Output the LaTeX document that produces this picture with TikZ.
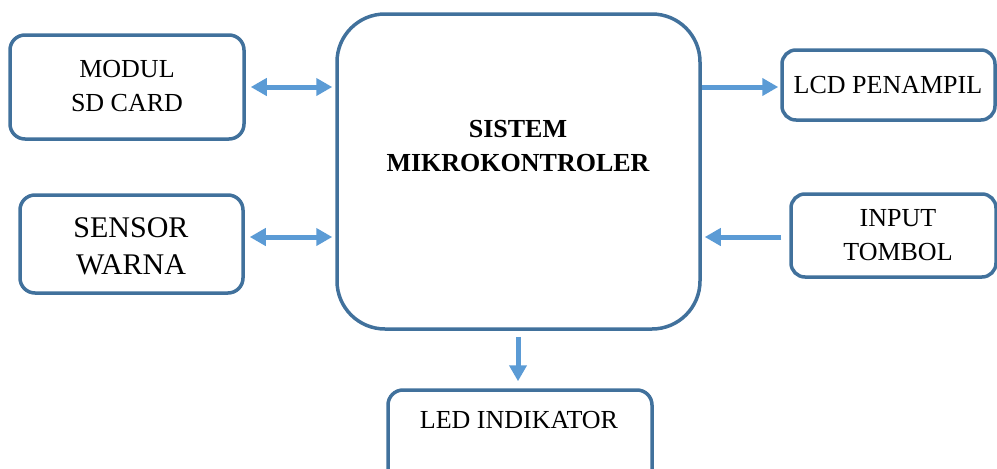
\documentclass[tikz,border=0pt]{standalone}
\usepackage{fontspec}
\setmainfont{Liberation Serif}
\usetikzlibrary{arrows.meta}
\definecolor{boxblue}{HTML}{41719C}
\definecolor{arrblue}{HTML}{5B9BD5}
\begin{document}
\begin{tikzpicture}[x=1pt,y=-1pt,
  box/.style={draw=boxblue, line width=3.5pt, fill=white, inner sep=0pt, align=center},
  txt/.style={font=\fontsize{26}{34}\selectfont, align=center, inner sep=0pt},
  conn/.style={draw=arrblue, line width=5pt, -{Triangle[width=17pt,length=16pt]}},
  dconn/.style={draw=arrblue, line width=5pt, {Triangle[width=17pt,length=16pt]}-{Triangle[width=17pt,length=16pt]}}]
\useasboundingbox (0,0) rectangle (997,469);
% boxes
\node[box, minimum width=363pt, minimum height=315pt, rounded corners=48pt] (mcu) at (518.5,171.5) {};
\node[box, minimum width=234pt, minimum height=104pt, rounded corners=15pt] (sd) at (127,87) {};
\node[box, minimum width=223pt, minimum height=98pt, rounded corners=15pt] (sensor) at (131.5,244) {};
\node[box, minimum width=213pt, minimum height=70pt, rounded corners=14pt] (lcd) at (888.5,85) {};
\node[box, minimum width=205pt, minimum height=83pt, rounded corners=14pt] (input) at (893.5,235.5) {};
\node[box, minimum width=264pt, minimum height=120pt, rounded corners=15pt] (led) at (520,450) {};
% texts
\node[txt, font=\fontsize{26}{34}\selectfont\bfseries] (mcutext) at (518,146) {SISTEM\\MIKROKONTROLER};
\node[txt] (sdtext) at (127,86) {MODUL\\SD CARD};
\node[txt, font=\fontsize{30}{37}\selectfont] (sensortext) at (131,246) {SENSOR\\WARNA};
\node[txt] (lcdtext) at (888,85) {LCD PENAMPIL};
\node[txt] (inputtext) at (898,235) {INPUT\\TOMBOL};
\node[txt] (ledtext) at (519,420) {LED INDIKATOR};
% connectors
\draw[dconn] ([xshift=5pt]sd.east) -- ([xshift=-3pt]sd.east -| mcu.west);
\draw[dconn] ([xshift=5pt,yshift=7pt]sensor.east) -- ([xshift=-3pt,yshift=7pt]sensor.east -| mcu.west);
\draw[conn] ([yshift=-2pt]lcd.west -| mcu.east) -- ([xshift=-2pt,yshift=-2pt]lcd.west);
\draw[conn] ([xshift=-8pt,yshift=-1.5pt]input.west) -- ([xshift=3pt,yshift=-1.5pt]input.west -| mcu.east);
\draw[conn] ([xshift=-0.5pt,yshift=-6pt]mcu.south) -- ([xshift=-0.5pt,yshift=7pt]mcu.south |- led.north);
\end{tikzpicture}
\end{document}
